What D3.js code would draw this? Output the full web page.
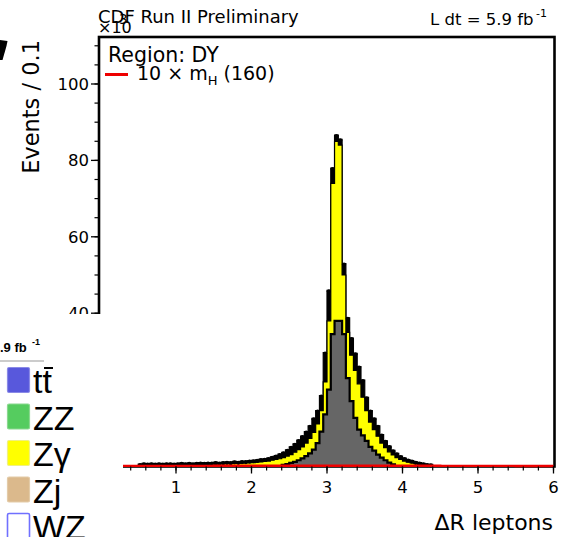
<!DOCTYPE html>
<html><head><meta charset="utf-8">
<script src="https://cdn.jsdelivr.net/npm/d3@7"></script>
<style>
body{margin:0;background:#fff}
svg{display:block}
text{font-family:"DejaVu Sans",sans-serif;fill:#000}
.pn text{font-family:"Liberation Sans",Arial,sans-serif}
</style>
</head><body>
<svg id="c" width="567" height="537"></svg>
<script>
// ---------------- data ----------------
const binStart = 0.5;      // lower edge of first bin
const binWidth = 0.05;
// black band (data), values in units of 10^3 events
const dataVals = [0.5,0.7,0.6,0.7,0.6,0.7,0.6,0.7,0.7,0.6,
  0.7,0.8,0.7,0.8,0.7,0.8,0.9,0.8,0.9,0.9,
  1.0,0.9,1.0,1.1,1.0,1.2,1.1,1.3,1.3,1.4,
  1.5,1.6,1.8,1.9,2.1,2.4,2.7,3.1,3.6,4.2,
  5.0,5.8,6.8,7.8,9.0,10.5,12.5,14.5,18.4,29.7,
  46.0,78.0,86.6,85.5,53.0,38.8,33.5,29.5,26.0,22.5,
  18.0,14.5,12.5,10.5,8.2,6.6,5.2,4.1,3.3,2.6,
  2.1,1.7,1.4,1.1,0.9,0.7,0.5,0.4];
// total expectation (top of yellow stack)
const mcTotal = [0.2,0.3,0.3,0.3,0.3,0.3,0.3,0.3,0.3,0.35,
  0.35,0.35,0.4,0.4,0.4,0.4,0.45,0.45,0.5,0.5,
  0.5,0.55,0.6,0.6,0.65,0.7,0.7,0.75,0.8,0.85,
  0.9,1.0,1.1,1.2,1.3,1.5,1.7,1.9,2.2,2.6,
  3.0,3.6,4.3,5.0,6.0,7.2,8.8,11.0,14.5,22.0,
  38.0,74.0,85.0,84.0,50.0,35.0,29.0,25.0,21.5,18.0,
  14.5,11.5,9.5,7.8,6.0,4.8,3.7,2.9,2.2,1.7,
  1.3,1.0,0.8,0.6,0.45,0.35,0.25,0.2];
// grey component
const grayVals = [0,0,0,0,0,0,0,0,0,0,
  0,0,0,0,0,0,0,0,0,0,
  0,0,0,0,0,0,0,0,0,0,
  0,0,0,0,0,0,0,0,0.3,0.5,
  0.8,1.1,1.5,2.0,2.6,3.3,4.3,6.0,9.0,13.5,
  20.0,34.5,38.0,38.0,34.5,23.0,17.0,12.6,9.5,8.0,
  6.6,5.0,4.0,3.0,2.2,1.5,0.9,0.4,0,0,
  0,0,0,0,0,0,0,0];
// signal 10 x mH(160), coarse bins
const sigStart = 0, sigWidth = 0.5;
const signalVals = [0.02,0.03,0.04,0.05,0.07,0.08,0.08,0.07,0.05,0.03,0.02,0.01];

const xTicks = [1,2,3,4,5,6];
const yTicks = [40,60,80,100];
const legendNames = ["tt","ZZ","Z\u03b3","Zj","WZ"];
const legendFill  = ["#5858dc","#55cc5f","#ffff00","#dbb98c","#ffffff"];
const legendEdge  = ["#8a8ae6","#8ad88f","#f0f080","#e3cba8","#7070ff"];

// ---------------- scales ----------------
const svg = d3.select("#c");
const x = d3.scaleLinear().domain([0,6]).range([100.5,553.5]);
const y = d3.scaleLinear().domain([0,112.3]).range([466,37]);

function pts(vals, start, w){
  const p = vals.map((v,i)=>({x:start+i*w, v:v}));
  p.push({x:start+vals.length*w, v:0});
  return p;
}
const area = d3.area().curve(d3.curveStepAfter)
  .x(d=>x(d.x)).y0(y(0)).y1(d=>y(d.v));
const line = d3.line().curve(d3.curveStepAfter)
  .x(d=>x(d.x)).y(d=>y(d.v));

const plot = svg.append("g");
plot.append("path").attr("d", area(pts(dataVals,binStart,binWidth)))
  .attr("fill","#000").attr("stroke","#000").attr("stroke-width",1.2);
plot.append("path").attr("d", area(pts(mcTotal,binStart,binWidth)))
  .attr("fill","#ffff00").attr("stroke","#000").attr("stroke-width",1.2);
plot.append("path").attr("d", area(pts(grayVals,binStart,binWidth)))
  .attr("fill","#666666").attr("stroke","#000").attr("stroke-width",2.2);
plot.selectAll("circle.d").data(dataVals).enter().append("circle")
  .attr("cx",(d,i)=>x(binStart+(i+0.5)*binWidth)).attr("cy",d=>y(d)+1)
  .attr("r",2.1).attr("fill","#000");

// frame
svg.append("rect").attr("x",x(0)-1.5).attr("y",y(112.3)).attr("width",x(6)-x(0)+2.5).attr("height",y(0)-y(112.3)+0.5)
  .attr("fill","none").attr("stroke","#000").attr("stroke-width",2.6);

// signal line (on top of frame)
const sp = pts(signalVals,sigStart,sigWidth).slice(0,-1);
sp.push({x:6, v:signalVals[signalVals.length-1]});
svg.append("path").attr("d", line(sp))
  .attr("fill","none").attr("stroke","#ee0000").attr("stroke-width",2.4);

// y axis
const yAxis = svg.append("g").attr("transform",`translate(${x(0)-1.5},0)`);
const yMinor = d3.range(0,112,5);
yAxis.selectAll("line.mi").data(yMinor).enter().append("line")
  .attr("x1",0).attr("x2",-4.5).attr("y1",d=>y(d)).attr("y2",d=>y(d)).attr("stroke","#000").attr("stroke-width",1.2);
yAxis.selectAll("line.ma").data([0,20].concat(yTicks)).enter().append("line")
  .attr("x1",0).attr("x2",-8).attr("y1",d=>y(d)).attr("y2",d=>y(d)).attr("stroke","#000").attr("stroke-width",1.3);
yAxis.selectAll("text").data([0,20].concat(yTicks)).enter().append("text")
  .attr("x",-10).attr("y",d=>y(d)).attr("dy","0.36em").attr("text-anchor","end")
  .attr("font-size",16.5).text(d=>d);

// x axis
const xAxis = svg.append("g").attr("transform",`translate(0,${y(0)+0.5})`);
const xMinor = d3.range(0,6.01,0.2);
xAxis.selectAll("line.mi").data(xMinor).enter().append("line")
  .attr("x1",d=>x(d)).attr("x2",d=>x(d)).attr("y1",0).attr("y2",4).attr("stroke","#000").attr("stroke-width",1.2);
xAxis.selectAll("line.ma").data([0].concat(xTicks)).enter().append("line")
  .attr("x1",d=>x(d)).attr("x2",d=>x(d)).attr("y1",0).attr("y2",7).attr("stroke","#000").attr("stroke-width",1.3);
xAxis.selectAll("text").data(xTicks).enter().append("text")
  .attr("x",d=>x(d)).attr("y",26.5).attr("text-anchor","middle")
  .attr("font-size",16.5).text(d=>d);

// titles
svg.append("text").attr("x",553).attr("y",530).attr("text-anchor","end").attr("font-size",22).text("\u0394R leptons");
svg.append("text").attr("transform","translate(39,40) rotate(-90)").attr("text-anchor","end")
  .attr("font-size",22.5).text("Events / 0.1");
svg.append("text").attr("x",98).attr("y",23).attr("font-size",18).text("CDF Run II Preliminary");
svg.append("text").attr("x",98).attr("y",33).attr("font-size",16).text("\u00d710");
svg.append("text").attr("x",119).attr("y",24).attr("font-size",13.5).text("3");
svg.append("text").attr("x",430).attr("y",25).attr("font-size",16.5).text("L dt = 5.9 fb");
svg.append("text").attr("x",536).attr("y",17).attr("font-size",11).text("-1");
svg.append("text").attr("x",108).attr("y",62).attr("font-size",20.5).text("Region: DY");
svg.append("line").attr("x1",105).attr("x2",128).attr("y1",74.5).attr("y2",74.5).attr("stroke","#ee0000").attr("stroke-width",3);
const st = svg.append("text").attr("x",137).attr("y",80).attr("font-size",19);
st.append("tspan").text("10 \u00d7 m");
st.append("tspan").attr("font-size",13).attr("dy",5).text("H");
st.append("tspan").attr("dy",-5).text(" (160)");

// stray glyph at the upper-left edge
svg.append("path").attr("d","M0,40 L7.5,41 L6.5,46 L2.5,60 L0,60 Z").attr("fill","#000");

// ---------------- overlapping legend panel ----------------
const pn = svg.append("g").attr("class","pn");
pn.append("rect").attr("x",0).attr("y",314).attr("width",123).attr("height",223).attr("fill","#fff");
pn.append("text").attr("x",0).attr("y",352).attr("font-size",13).attr("font-weight","bold").text(".9 fb");
pn.append("text").attr("x",32).attr("y",345).attr("font-size",9).attr("font-weight","bold").text("-1");
pn.append("line").attr("x1",0).attr("x2",44).attr("y1",361).attr("y2",361).attr("stroke","#999").attr("stroke-width",1.2);
const ent = pn.selectAll("g.e").data(legendNames).enter().append("g")
  .attr("transform",(d,i)=>`translate(0,${367+i*36.5})`);
ent.append("rect").attr("x",7.5).attr("y",0.5).attr("width",22).attr("height",25).attr("rx",1.5)
  .attr("fill",(d,i)=>legendFill[i]).attr("stroke",(d,i)=>legendEdge[i]).attr("stroke-width",(d,i)=>i===4?1.6:1.2);
ent.append("text").attr("x",33).attr("y",26).attr("font-size",34).text(d=>d);
pn.append("line").attr("x1",44).attr("x2",53).attr("y1",368).attr("y2",368).attr("stroke","#000").attr("stroke-width",2);
</script>
</body></html>
